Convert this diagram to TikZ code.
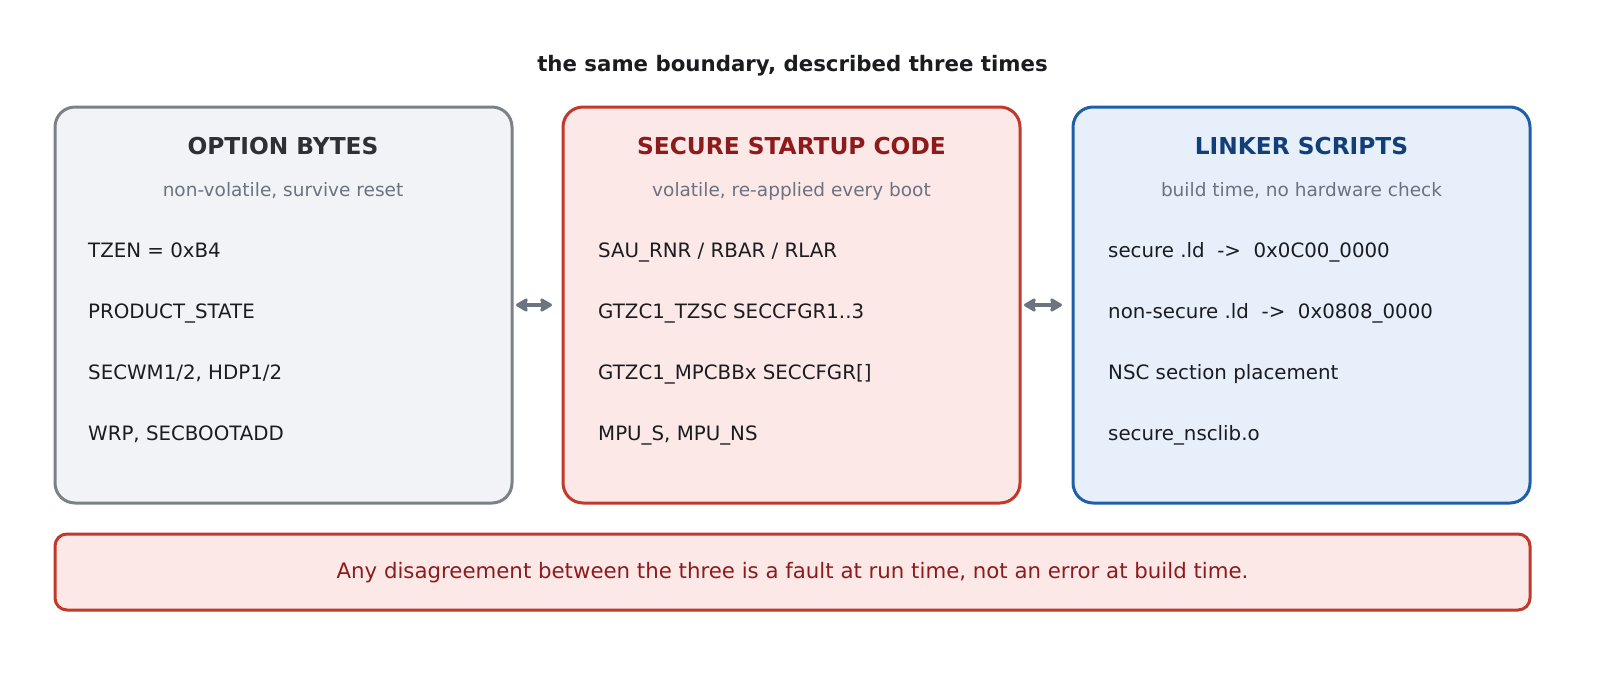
\documentclass[tikz,border=0pt]{standalone}
\usepackage{fontspec}
\setmainfont{DejaVu Sans}
\usetikzlibrary{arrows.meta}
\definecolor{grayedge}{HTML}{7B8189}
\definecolor{grayfill}{HTML}{F2F3F6}
\definecolor{grayhead}{HTML}{2D3035}
\definecolor{rededge}{HTML}{C0392B}
\definecolor{redfill}{HTML}{FDE8E8}
\definecolor{redhead}{HTML}{8E1B1B}
\definecolor{blueedge}{HTML}{1F5FAA}
\definecolor{bluefill}{HTML}{E7EFFB}
\definecolor{bluehead}{HTML}{123F78}
\definecolor{subgray}{HTML}{6B7280}
\definecolor{itemtext}{HTML}{1A1C20}
\definecolor{arrowgray}{HTML}{6B7580}
\tikzset{
  panel/.style={draw, line width=3pt, rounded corners=20pt, minimum width=457pt, minimum height=396pt, outer sep=0pt, inner sep=0pt},
  headtext/.style={font=\fontsize{23.3}{27}\selectfont\bfseries, anchor=base},
  subtext/.style={font=\fontsize{18.5}{22}\selectfont, text=subgray, anchor=base},
  itemstyle/.style={font=\fontsize{19.8}{23}\selectfont, text=itemtext, anchor=base west, inner sep=0pt},
  arr/.style={{Stealth[length=14pt,width=16pt,inset=2.5pt,round]}-{Stealth[length=14pt,width=16pt,inset=2.5pt,round]}, line width=4.5pt, draw=arrowgray}
}
\begin{document}
\begin{tikzpicture}[x=1pt,y=-1pt]
\useasboundingbox (0,0) rectangle (1600,672);
\node[font=\fontsize{21.3}{25}\selectfont\bfseries, text=itemtext, anchor=base] (title) at (792.5,71.7) {the same boundary, described three times};

\node[panel, draw=grayedge, fill=grayfill] (b1) at (283.5,305) {};
\node[panel, draw=rededge, fill=redfill] (b2) at (791.5,305) {};
\node[panel, draw=blueedge, fill=bluefill] (b3) at (1301.5,305) {};

\node[headtext, text=grayhead] (h1) at (283,154) {OPTION BYTES};
\node[subtext] (s1) at (283,196) {non-volatile, survive reset};
\node[itemstyle] (i11) at (88,257.5) {TZEN = 0xB4};
\node[itemstyle] (i12) at (88,318.5) {PRODUCT\_STATE};
\node[itemstyle] (i13) at (88,379.5) {SECWM1/2, HDP1/2};
\node[itemstyle] (i14) at (88,440.5) {WRP, SECBOOTADD};

\node[headtext, text=redhead] (h2) at (791.5,154) {SECURE STARTUP CODE};
\node[subtext] (s2) at (791.5,196) {volatile, re-applied every boot};
\node[itemstyle] (i21) at (598,257.5) {SAU\_RNR / RBAR / RLAR};
\node[itemstyle] (i22) at (598,318.5) {GTZC1\_TZSC SECCFGR1..3};
\node[itemstyle] (i23) at (598,379.5) {GTZC1\_MPCBBx SECCFGR[]};
\node[itemstyle] (i24) at (598,440.5) {MPU\_S, MPU\_NS};

\node[headtext, text=bluehead] (h3) at (1301.5,154) {LINKER SCRIPTS};
\node[subtext] (s3) at (1301.5,196) {build time, no hardware check};
\node[itemstyle] (i31) at (1108,257.5) {secure .ld\ \ ->\ \ 0x0C00\_0000};
\node[itemstyle] (i32) at (1108,318.5) {non-secure .ld\ \ ->\ \ 0x0808\_0000};
\node[itemstyle] (i33) at (1108,379.5) {NSC section placement};
\node[itemstyle] (i34) at (1108,440.5) {secure\_nsclib.o};

\draw[arr] ([xshift=4pt]b1.east) -- ([xshift=-11pt]b2.west);
\draw[arr] ([xshift=4pt]b2.east) -- ([xshift=-11pt]b3.west);

\node[draw=rededge, fill=redfill, line width=3pt, rounded corners=12pt, minimum width=1475pt, minimum height=76pt, inner sep=0pt, outer sep=0pt] (note) at (792.5,572) {};
\node[font=\fontsize{21.3}{25}\selectfont, text=redhead, anchor=base] (notetext) at (792.5,578.3) {Any disagreement between the three is a fault at run time, not an error at build time.};
\end{tikzpicture}
\end{document}
